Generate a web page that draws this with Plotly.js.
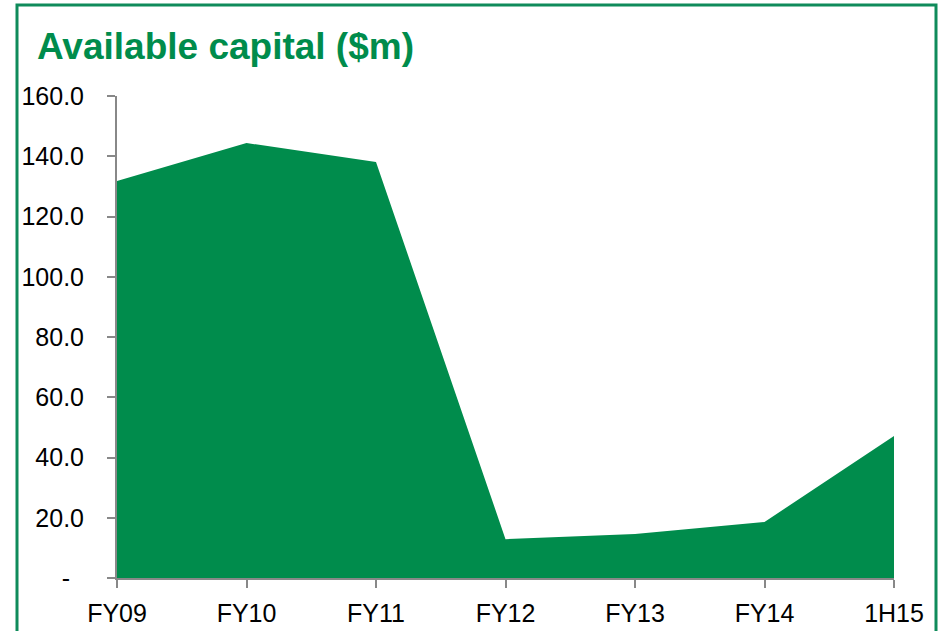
<!DOCTYPE html>
<html>
<head>
<meta charset="utf-8">
<script src="https://cdn.plot.ly/plotly-3.0.1.min.js"></script>
<style>
html,body{margin:0;padding:0;background:#fff;}
#chart{width:939px;height:631px;}
</style>
</head>
<body>
<div id="chart"></div>
<script>
var categories = ["FY09", "FY10", "FY11", "FY12", "FY13", "FY14", "1H15"];
var capital = [131.8, 144.4, 138.1, 12.9, 14.6, 18.6, 47.1];
var yTickVals = [0, 20, 40, 60, 80, 100, 120, 140, 160];
var yTickText = ["-\u00a0\u00a0", "20.0", "40.0", "60.0", "80.0", "100.0", "120.0", "140.0", "160.0"];

var W = 939, H = 631;
var L = 117, R = 45, T = 96, B = 53;
var pw = W - L - R, ph = H - T - B;
function px(x){ return (x - L) / pw; }
function py(y){ return (H - B - y) / ph; }

var trace = {
  type: 'scatter',
  mode: 'lines',
  x: categories,
  y: capital,
  fill: 'tozeroy',
  fillcolor: '#008C4C',
  line: {width: 0, color: '#008C4C'},
  hoverinfo: 'x+y'
};

var layout = {
  width: W, height: H,
  margin: {l: L, r: R, t: T, b: B, pad: 0},
  paper_bgcolor: '#ffffff',
  plot_bgcolor: '#ffffff',
  showlegend: false,
  font: {family: 'Liberation Sans, Arial, sans-serif', color: '#000000', size: 25},
  title: {
    text: '<b>Available capital ($m)</b>',
    font: {family: 'Liberation Sans, Arial, sans-serif', size: 37, color: '#008C4C'},
    xref: 'container', yref: 'container',
    x: 37 / W, xanchor: 'left',
    y: 1 - 46 / H, yanchor: 'middle'
  },
  xaxis: {
    type: 'category',
    range: [0, categories.length - 1],
    showgrid: false, zeroline: false,
    showline: true, linecolor: '#888888', linewidth: 2,
    ticks: 'outside', ticklen: 8, tickcolor: '#888888', tickwidth: 2,
    ticklabelstandoff: 4,
    tickfont: {size: 25, color: '#000000'},
    fixedrange: true
  },
  yaxis: {
    range: [0, 160],
    tickvals: yTickVals,
    ticktext: yTickText,
    showgrid: false, zeroline: false,
    showline: true, linecolor: '#888888', linewidth: 2,
    ticks: 'outside', ticklen: 8, tickcolor: '#888888', tickwidth: 2,
    ticklabelstandoff: 18,
    tickfont: {size: 25, color: '#000000'},
    fixedrange: true
  },
  shapes: [{
    type: 'path', xref: 'paper', yref: 'paper',
    path: 'M ' + px(17) + ' ' + py(650) + ' L ' + px(17) + ' ' + py(5) +
          ' L ' + px(936) + ' ' + py(5) + ' L ' + px(936) + ' ' + py(650),
    line: {color: '#0F8B5B', width: 3},
    fillcolor: 'rgba(0,0,0,0)'
  }]
};

Plotly.newPlot('chart', [trace], layout, {displayModeBar: false, staticPlot: true});
</script>
</body>
</html>
